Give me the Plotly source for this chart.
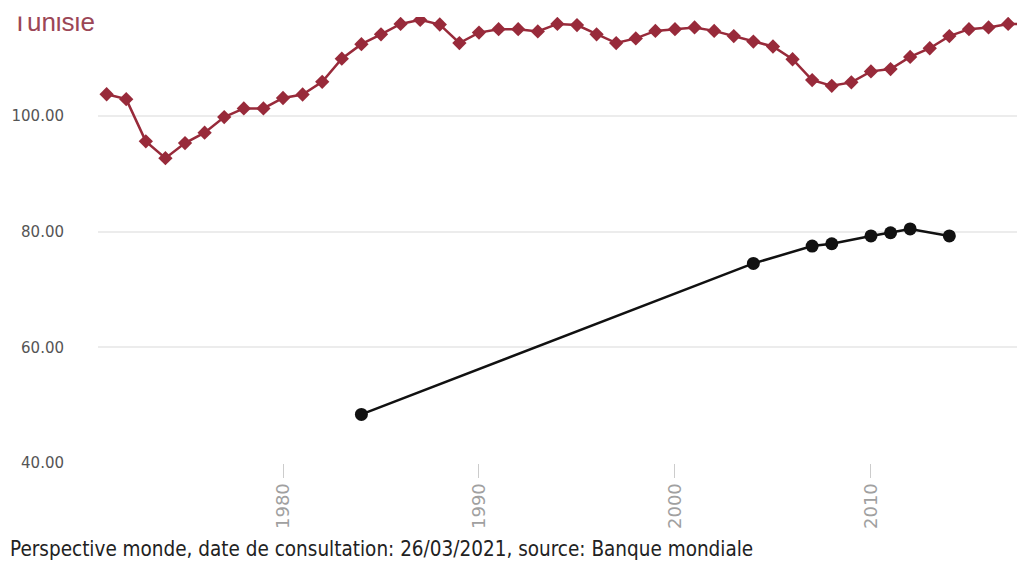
import plotly.graph_objects as go

# ---- data ----
red_years = list(range(1971, 2019))
red_values = [103.75, 102.9, 95.6, 92.7, 95.3, 97.1, 99.8, 101.3, 101.3, 103.1,
              103.7, 105.9, 109.9, 112.4, 114.1, 115.9, 116.6, 115.8, 112.6, 114.4,
              115.0, 115.0, 114.6, 115.9, 115.7, 114.1, 112.6, 113.4, 114.7, 115.0,
              115.3, 114.7, 113.8, 112.85, 112.0, 109.8, 106.2, 105.2, 105.8, 107.7,
              108.1, 110.2, 111.7, 113.8, 115.0, 115.3, 115.9, 115.9]

black_years = [1984, 2004, 2007, 2008, 2010, 2011, 2012, 2014]
black_values = [48.4, 74.5, 77.5, 77.9, 79.25, 79.8, 80.46, 79.25]

y_ticks = [40, 60, 80, 100]
x_ticks = [1980, 1990, 2000, 2010]

title_text = "Tunisie"
footer_text = "Perspective monde, date de consultation: 26/03/2021, source: Banque mondiale"

RED = "#982a3a"

fig = go.Figure()
fig.add_trace(go.Scatter(
    x=red_years, y=red_values, mode="lines+markers",
    line=dict(color=RED, width=2.5),
    marker=dict(symbol="diamond", size=11, color=RED),
    showlegend=False, hoverinfo="x+y",
))
fig.add_trace(go.Scatter(
    x=black_years, y=black_values, mode="lines+markers",
    line=dict(color="#111111", width=2.5),
    marker=dict(symbol="circle", size=13, color="#111111"),
    showlegend=False, hoverinfo="x+y",
))

fig.update_layout(
    width=1017, height=555,
    margin=dict(l=90, r=0, t=9, b=100, pad=0),
    paper_bgcolor="white", plot_bgcolor="white",
    xaxis=dict(
        range=[1970.56, 2017.86], tickvals=x_ticks, ticktext=[str(v) for v in x_ticks],
        tickangle=-90, ticks="outside", ticklen=14, tickcolor="#cccccc", tickwidth=1,
        showgrid=False, zeroline=False, showline=False, ticklabelstandoff=-2,
        tickfont=dict(family="DejaVu Sans", size=18, color="#a0a0a0"),
    ),
    yaxis=dict(
        range=[40, 117.1], tickvals=y_ticks, tickformat=".2f",
        showgrid=True, gridcolor="#ececec", gridwidth=2, zeroline=False, showline=False,
        ticks="", ticklabelstandoff=33,
        tickfont=dict(family="DejaVu Sans", size=15, color="#555555"),
    ),
    annotations=[
        dict(text=title_text, xref="paper", yref="paper", x=0, y=1,
             xanchor="left", yanchor="middle", xshift=-88, yshift=-5, showarrow=False,
             font=dict(family="Liberation Sans, Arial", size=26, color="#9b4656")),
        dict(text=" ", xref="paper", yref="paper", x=0, y=1,
             xanchor="left", yanchor="bottom", xshift=-90, showarrow=False,
             width=300, height=8, bgcolor="white", borderpad=0,
             font=dict(size=6, color="white")),
        dict(text=footer_text, xref="paper", yref="paper", x=0, y=0,
             xanchor="left", yanchor="middle", xshift=-90, yshift=-86, showarrow=False,
             font=dict(family="DejaVu Sans Condensed, Liberation Sans Narrow, Open Sans", size=20.5, color="#222222")),
    ],
)

fig.write_html("out.html")
